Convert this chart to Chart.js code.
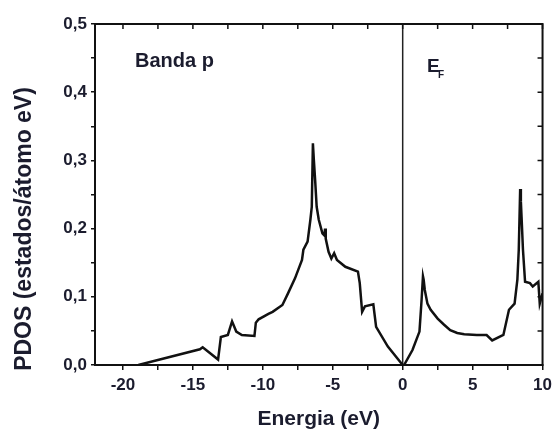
<!DOCTYPE html>
<html>
<head>
<meta charset="utf-8">
<script src="https://cdn.jsdelivr.net/npm/chart.js@4/dist/chart.umd.min.js"></script>
<style>
  html, body { margin: 0; padding: 0; background: #fff; }
</style>
</head>
<body>
<canvas id="myChart" width="557" height="432"></canvas>
<script>
// p-band PDOS
const energy = [-18.9, -14.5, -14.3, -13.2, -13.0, -12.5, -12.2, -11.9, -11.5, -10.6,
  -10.5, -10.3, -9.6, -9.3, -8.6, -8.2, -7.7, -7.2, -7.1, -6.8,
  -6.6, -6.5, -6.42, -6.35, -6.26, -6.15, -6.0, -5.74, -5.6, -5.55,
  -5.5, -5.3, -5.1, -4.9, -4.7, -4.1, -3.2, -3.07, -2.9, -2.7,
  -2.1, -1.9, -1.06, 0, 0.1, 0.7, 1.2, 1.35, 1.45, 1.5,
  1.58, 1.77, 2.0, 2.5, 2.96, 3.4, 3.9, 4.4, 5.3, 6.0,
  6.4, 7.2, 7.6, 8.0, 8.2, 8.3, 8.4, 8.45, 8.5, 8.6,
  8.75, 9.1, 9.3, 9.7, 9.8, 10];
const pdos = [0, 0.023, 0.026, 0.008, 0.041, 0.044, 0.064, 0.049, 0.044, 0.0425,
  0.062, 0.067, 0.075, 0.078, 0.088, 0.105, 0.127, 0.154, 0.169, 0.181,
  0.213, 0.232, 0.325, 0.300, 0.271, 0.232, 0.213, 0.193, 0.190, 0.200,
  0.185, 0.166, 0.156, 0.164, 0.154, 0.144, 0.137, 0.120, 0.078, 0.086,
  0.089, 0.056, 0.027, 0, 0, 0.022, 0.049, 0.095, 0.130, 0.125,
  0.110, 0.090, 0.081, 0.068, 0.059, 0.051, 0.047, 0.045, 0.044, 0.044,
  0.036, 0.044, 0.081, 0.090, 0.125, 0.169, 0.258, 0.240, 0.217, 0.169,
  0.122, 0.120, 0.115, 0.122, 0.090, 0.105];

const fermiLevel = 0;
const xTickValues = [-20, -17.5, -15, -12.5, -10, -7.5, -5, -2.5, 0, 2.5, 5, 7.5, 10];
const yTickValues = [0, 0.05, 0.1, 0.15, 0.2, 0.25, 0.3, 0.35, 0.4, 0.45, 0.5];
const xMin = -22, xMax = 10, yMin = 0, yMax = 0.5;

const ink = '#1b1c2e';
const fontFamily = '"Liberation Sans", Arial, sans-serif';
const points = energy.map((e, i) => ({x: e, y: pdos[i]}));

// box, inward ticks on top/right, y title and text labels
const framePlugin = {
  id: 'frame',
  afterDraw(chart) {
    const {ctx, chartArea: a, scales: {x, y}} = chart;
    ctx.save();
    ctx.strokeStyle = '#111';
    ctx.lineWidth = 2;
    ctx.strokeRect(a.left, a.top, a.right - a.left, a.bottom - a.top);
    ctx.lineWidth = 1.5;
    ctx.beginPath();
    xTickValues.forEach(v => {
      const px = x.getPixelForValue(v);
      ctx.moveTo(px, a.top);
      ctx.lineTo(px, a.top + 5);
    });
    yTickValues.forEach(v => {
      const py = y.getPixelForValue(v);
      ctx.moveTo(a.right, py);
      ctx.lineTo(a.right - 5, py);
    });
    ctx.stroke();

    ctx.fillStyle = ink;
    ctx.textBaseline = 'alphabetic';
    ctx.font = 'bold 20px ' + fontFamily;
    ctx.fillText('Banda p', 135, 67);
    ctx.font = 'bold 19px ' + fontFamily;
    ctx.fillText('E', 427, 72);
    ctx.font = 'bold 10px ' + fontFamily;
    ctx.fillText('F', 438, 78);

    // y axis title, sits a bit below the axis middle in the original
    ctx.translate(25, 229);
    ctx.rotate(-Math.PI / 2);
    ctx.textAlign = 'center';
    ctx.textBaseline = 'middle';
    ctx.font = 'bold 23px ' + fontFamily;
    ctx.fillText('PDOS (estados/átomo eV)', 0, 0);
    ctx.restore();
  }
};

new Chart(document.getElementById('myChart'), {
  type: 'scatter',
  data: {
    datasets: [{
      label: 'Banda p',
      data: points,
      showLine: true,
      borderColor: '#111',
      borderWidth: 2.5,
      pointRadius: 0,
      tension: 0
    }, {
      label: 'EF',
      data: [{x: fermiLevel, y: yMin}, {x: fermiLevel, y: yMax}],
      showLine: true,
      borderColor: '#222',
      borderWidth: 1.5,
      pointRadius: 0
    }]
  },
  options: {
    responsive: false,
    animation: false,
    layout: { padding: { top: 24, right: 14, left: 0, bottom: 0 } },
    plugins: { legend: { display: false }, tooltip: { enabled: false } },
    scales: {
      x: {
        type: 'linear',
        min: xMin, max: xMax,
        afterFit(s) { s.height = 67; },
        afterBuildTicks(s) { s.ticks = xTickValues.map(v => ({value: v})); },
        grid: { drawOnChartArea: false, tickLength: 5, color: '#111', lineWidth: 1.5 },
        border: { color: '#111', width: 2 },
        ticks: {
          color: ink, padding: 5, maxRotation: 0, autoSkip: false,
          font: { family: fontFamily, size: 17, weight: 'bold' },
          callback: v => (v % 5 === 0 ? String(v) : '')
        },
        title: {
          display: true, text: 'Energia (eV)', color: ink,
          padding: { top: 0, bottom: 0 },
          font: { family: fontFamily, size: 21, weight: 'bold' }
        }
      },
      y: {
        min: yMin, max: yMax,
        afterFit(s) { s.width = 95; },
        afterBuildTicks(s) { s.ticks = yTickValues.map(v => ({value: v})); },
        grid: { drawOnChartArea: false, tickLength: 4, color: '#111', lineWidth: 1.5 },
        border: { color: '#111', width: 2 },
        ticks: {
          color: ink, padding: 4, autoSkip: false,
          font: { family: fontFamily, size: 17, weight: 'bold' },
          callback: v => (Math.round(v * 100) % 10 === 0 ? v.toFixed(1).replace('.', ',') : '')
        },
        title: { display: false }
      }
    }
  },
  plugins: [framePlugin]
});
</script>
</body>
</html>
